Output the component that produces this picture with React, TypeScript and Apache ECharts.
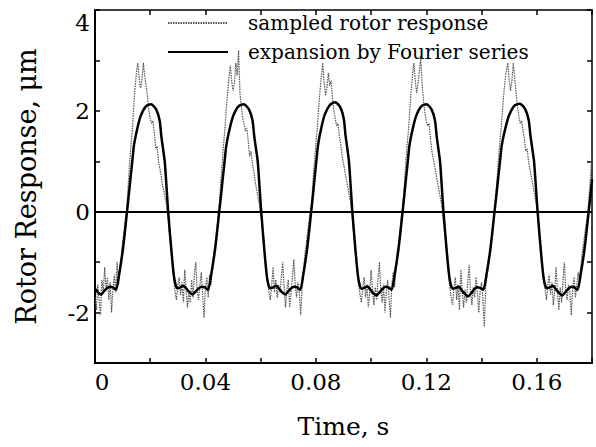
import React, { useEffect, useRef } from "react";
import * as echarts from "echarts";

const seriesNames = ["sampled rotor response", "expansion by Fourier series"];

// x-axis labelled ticks (s) and y-axis labelled ticks (μm)
const xLabelTicks = [0, 0.04, 0.08, 0.12, 0.16];
const yLabelTicks = [-2, 0, 2, 4];

// sampled rotor response, one value every sampleStep seconds starting at t = 0
const sampleStep = 0.0005;
const sampledY = [
  -1.7, -1.95, -1.45, -1.75, -2.05, -1.35, -1.6, -1.1, -1.55, -1.3, -1.75, -1.4, -2.0, -1.55, -1.25, -1.6, -1.0, -1.45, -1.2, -0.9, -0.6, -0.4, -0.15,
  0.05, 0.5, 0.95, 1.3, 1.6, 2.05, 2.45, 2.75, 2.95, 2.65, 2.45, 2.6, 2.95, 2.7, 2.5, 2.3, 2.0, 1.85, 1.75, 1.8, 1.55, 1.25, 1.3, 1.0, 0.85, 0.7, 0.5, 0.4, 0.25, 0.1, -0.15,
  -0.45, -0.75, -1.05, -1.3, -1.6, -1.75, -1.45, -1.3, -1.65, -1.4, -1.8, -1.15, -1.55, -1.9, -1.6, -1.8, -1.35, -1.7, -1.25, -1.0, -1.55, -1.75, -1.45, -1.2, -1.65, -2.1, -1.5, -1.3, -1.7, -1.25, -1.45, -1.1, -0.85, -0.65, -0.4, -0.15,
  0.1, 0.55, 0.9, 1.3, 1.6, 2.0, 2.35, 2.65, 2.9, 2.6, 2.4, 2.55, 2.95, 2.7, 3.2, 2.35, 2.1, 1.85, 1.75, 1.6, 1.65, 1.4, 1.1, 1.2, 0.95, 0.8, 0.6, 0.45, 0.3, 0.15, -0.05,
  -0.2, -0.5, -0.85, -1.1, -1.4, -1.6, -1.75, -1.45, -1.1, -1.6, -1.35, -1.7, -1.45, -1.6, -1.3, -1.0, -1.5, -1.9, -1.55, -1.35, -1.9, -1.6, -1.3, -0.95, -1.45, -1.7, -1.4, -1.6, -2.05, -1.5, -1.2, -0.85, -0.65, -0.4, -0.2, 0.0,
  0.2, 0.65, 1.0, 1.35, 1.65, 2.05, 2.4, 2.7, 2.95, 2.55, 2.3, 2.45, 2.75, 2.5, 2.6, 2.25, 2.0, 1.85, 1.7, 1.75, 1.5, 1.35, 1.1, 0.95, 0.8, 0.65, 0.5, 0.35, 0.2, 0.0,
  -0.3, -0.6, -0.9, -1.2, -1.45, -1.65, -1.8, -1.5, -1.3, -1.7, -1.45, -1.9, -1.6, -1.15, -1.55, -1.85, -1.5, -1.75, -1.35, -1.0, -1.55, -1.8, -1.45, -2.0, -1.6, -1.35, -1.7, -2.1, -1.45, -1.2, -1.5, -1.1, -0.8, -0.6, -0.35, -0.1,
  0.1, 0.5, 0.95, 1.3, 1.6, 2.0, 2.4, 2.7, 2.95, 2.6, 2.35, 2.55, 2.8, 3.05, 2.5, 2.2, 1.95, 1.8, 1.7, 1.75, 1.45, 1.2, 1.05, 0.9, 0.75, 0.6, 0.45, 0.3, 0.15, -0.05,
  -0.3, -0.6, -0.9, -1.2, -1.5, -1.7, -1.85, -1.5, -1.3, -1.75, -1.45, -1.95, -1.15, -1.6, -1.9, -1.55, -1.8, -1.4, -1.05, -1.6, -1.85, -1.5, -1.7, -1.3, -1.6, -2.0, -1.55, -1.4, -1.75, -2.28, -1.5, -1.25, -1.1, -0.85, -0.6, -0.35, -0.1,
  0.15, 0.55, 0.95, 1.3, 1.6, 1.95, 2.3, 2.6, 2.8, 2.95, 2.6, 2.4, 2.6, 2.95, 2.65, 2.35, 2.1, 1.9, 1.75, 1.8, 1.6, 1.45, 1.2, 1.25, 1.0, 0.85, 0.7, 0.55, 0.4, 0.25, 0.1, -0.15,
  -0.45, -0.75, -1.05, -1.35, -1.55, -1.75, -1.45, -1.25, -1.65, -1.4, -1.85, -1.55, -1.1, -1.6, -1.95, -1.5, -1.8, -1.35, -1.0, -1.55, -1.75, -1.45, -1.6, -2.05, -1.5, -1.3, -1.7, -1.45, -1.2, -1.4, -1.05, -0.8, -0.6, -0.4, -0.2, 0.0,
  0.35, 0.75, 1.1,
];

// Fourier series expansion, read as (time, value) points
const fourierT = [
  0, 0.00104, 0.00214, 0.00323, 0.00432, 0.00541, 0.0065, 0.0076, 0.00869, 0.01014, 0.0116,
  0.01223, 0.01283, 0.01346, 0.0141, 0.01533, 0.01655, 0.01842, 0.02028, 0.02214, 0.02341, 0.024, 0.02464, 0.02527, 0.02587, 0.0265,
  0.02761, 0.02872, 0.02983, 0.03094, 0.03205, 0.03316, 0.03427, 0.03538, 0.03649, 0.0376, 0.03871, 0.03982, 0.04093, 0.04204, 0.04352, 0.045,
  0.04565, 0.04625, 0.0469, 0.04755, 0.0488, 0.05005, 0.05195, 0.05385, 0.05575, 0.05705, 0.05765, 0.0583, 0.05895, 0.05955, 0.0602,
  0.06129, 0.06237, 0.06346, 0.06454, 0.06563, 0.06672, 0.0678, 0.06889, 0.06997, 0.07106, 0.07215, 0.07323, 0.07432, 0.0754, 0.07685, 0.0783,
  0.07893, 0.07953, 0.08016, 0.0808, 0.08203, 0.08325, 0.08512, 0.08698, 0.08884, 0.09011, 0.0907, 0.09134, 0.09197, 0.09257, 0.0932,
  0.09429, 0.09538, 0.09648, 0.09757, 0.09866, 0.09975, 0.10084, 0.10194, 0.10303, 0.10412, 0.10521, 0.1063, 0.1074, 0.10849, 0.10994, 0.1114,
  0.11203, 0.11262, 0.11325, 0.11388, 0.1151, 0.11632, 0.11817, 0.12002, 0.12187, 0.12313, 0.12372, 0.12435, 0.12498, 0.12557, 0.1262,
  0.12731, 0.12842, 0.12953, 0.13064, 0.13175, 0.13286, 0.13397, 0.13508, 0.13619, 0.1373, 0.13841, 0.13952, 0.14063, 0.14174, 0.14322, 0.1447,
  0.14536, 0.14599, 0.14665, 0.14731, 0.1486, 0.14989, 0.15184, 0.15379, 0.15574, 0.15706, 0.15769, 0.15835, 0.15901, 0.15964, 0.1603,
  0.16141, 0.16252, 0.16363, 0.16474, 0.16585, 0.16696, 0.16807, 0.16918, 0.17029, 0.1714, 0.17251, 0.17362, 0.17473, 0.17584, 0.17732, 0.1788,
  0.17944, 0.18,
];
const fourierY = [
  -1.53, -1.6, -1.64, -1.58, -1.52, -1.49, -1.5, -1.55, -1.26, -0.73, 0,
  0.33, 0.65, 0.98, 1.31, 1.65, 1.9, 2.09, 2.13, 2.03, 1.81, 1.51, 1.25, 0.99, 0.52, 0,
  -0.73, -1.33, -1.52, -1.5, -1.47, -1.53, -1.6, -1.64, -1.58, -1.52, -1.49, -1.5, -1.55, -1.26, -0.73, 0,
  0.33, 0.65, 0.98, 1.31, 1.65, 1.9, 2.09, 2.13, 2.03, 1.81, 1.51, 1.25, 0.99, 0.52, 0,
  -0.73, -1.33, -1.52, -1.5, -1.47, -1.53, -1.6, -1.64, -1.58, -1.52, -1.49, -1.5, -1.55, -1.26, -0.73, 0,
  0.33, 0.66, 1.0, 1.33, 1.68, 1.93, 2.12, 2.17, 2.07, 1.84, 1.53, 1.27, 1.0, 0.53, 0,
  -0.73, -1.33, -1.53, -1.51, -1.48, -1.55, -1.62, -1.66, -1.6, -1.53, -1.49, -1.5, -1.55, -1.26, -0.73, 0,
  0.33, 0.65, 0.98, 1.31, 1.65, 1.9, 2.09, 2.13, 2.03, 1.81, 1.51, 1.25, 0.99, 0.52, 0,
  -0.73, -1.33, -1.53, -1.51, -1.49, -1.56, -1.63, -1.68, -1.62, -1.54, -1.5, -1.51, -1.55, -1.26, -0.73, 0,
  0.33, 0.65, 0.98, 1.31, 1.65, 1.9, 2.1, 2.14, 2.04, 1.82, 1.52, 1.26, 1.0, 0.52, 0,
  -0.73, -1.33, -1.52, -1.5, -1.47, -1.54, -1.61, -1.66, -1.6, -1.53, -1.49, -1.5, -1.55, -1.26, -0.73, 0,
  0.33, 0.64,
];

const FONT = "DejaVu Serif";

export default function App() {
  const ref = useRef<HTMLDivElement>(null);

  useEffect(() => {
    if (!ref.current) return;
    const chart = echarts.init(ref.current, null, { renderer: "svg" });

    const sampled = sampledY.map((v, i) => [+(i * sampleStep).toFixed(4), v]);
    const fourier = fourierT.map((t, i) => [t, fourierY[i]]);
    const near = (list: number[], v: number) => list.some((t) => Math.abs(t - v) < 1e-6);

    const axisLine = { show: true, onZero: false, lineStyle: { color: "#000", width: 2 } };
    const axisTick = { show: true, inside: true, length: 5, lineStyle: { color: "#000", width: 1.5 } };
    const labelStyle = { color: "#000", fontFamily: FONT, fontSize: 23 };

    chart.setOption({
      animation: false,
      backgroundColor: "#fff",
      grid: { left: 95, top: 10, width: 497, height: 353, containLabel: false },
      legend: {
        orient: "vertical",
        left: 167,
        top: 12,
        itemWidth: 60,
        itemHeight: 14,
        itemGap: 7,
        padding: 0,
        selectedMode: false,
        data: seriesNames,
        itemStyle: { opacity: 0, borderWidth: 0 },
        textStyle: { color: "#000", fontFamily: FONT, fontSize: 20, lineHeight: 22, padding: [0, 0, 0, 15] },
      },
      xAxis: [
        {
          type: "value",
          position: "bottom",
          min: 0,
          max: 0.18,
          interval: 0.02,
          axisLine,
          axisTick,
          splitLine: { show: false },
          axisLabel: {
            ...labelStyle,
            margin: 7,
            formatter: (v: number) =>
              near(xLabelTicks, v) ? (Math.abs(v) < 1e-9 ? "{z|0}" : v.toFixed(2)) : "",
            rich: { z: { ...labelStyle, padding: [0, 0, 0, 14] } },
          },
          name: "Time, s",
          nameLocation: "middle",
          nameGap: 51,
          nameTextStyle: { color: "#000", fontFamily: FONT, fontSize: 25 },
        },
        {
          type: "value",
          position: "top",
          min: 0,
          max: 0.18,
          interval: 0.02,
          axisLine: { ...axisLine, lineStyle: { color: "#000", width: 1.5 } },
          axisTick,
          axisLabel: { show: false },
          splitLine: { show: false },
        },
      ],
      yAxis: [
        {
          type: "value",
          position: "left",
          min: -3,
          max: 4,
          interval: 1,
          axisLine,
          axisTick,
          splitLine: { show: false },
          axisLabel: {
            ...labelStyle,
            margin: 5,
            formatter: (v: number) =>
              near(yLabelTicks, v) ? (v === 4 ? "{t|4}" : String(v)) : "",
            rich: { t: { ...labelStyle, padding: [26, 0, 0, 0] } },
          },
          name: "Rotor Response, μm",
          nameLocation: "middle",
          nameGap: 55,
          nameTextStyle: { color: "#000", fontFamily: FONT, fontSize: 27 },
        },
        {
          type: "value",
          position: "right",
          min: -3,
          max: 4,
          interval: 1,
          axisLine: { ...axisLine, lineStyle: { color: "#000", width: 1.5 } },
          axisTick,
          axisLabel: { show: false },
          splitLine: { show: false },
        },
      ],
      series: [
        {
          type: "line",
          name: seriesNames[0],
          data: sampled,
          symbol: "none",
          z: 2,
          itemStyle: { color: "#555" },
          lineStyle: { color: "#555", width: 1.2, type: [1.5, 1] },
        },
        {
          type: "line",
          name: seriesNames[1],
          data: fourier,
          symbol: "none",
          smooth: 0.25,
          z: 3,
          itemStyle: { color: "#000" },
          lineStyle: { color: "#000", width: 2.5 },
          markLine: {
            silent: true,
            symbol: "none",
            label: { show: false },
            lineStyle: { color: "#000", width: 2, type: "solid" },
            data: [{ yAxis: 0 }],
          },
        },
      ],
    });

    return () => chart.dispose();
  }, []);

  return (
    <div
      ref={ref}
      style={{ position: "fixed", left: 0, top: 0, width: 596, height: 447, background: "#fff" }}
    />
  );
}
